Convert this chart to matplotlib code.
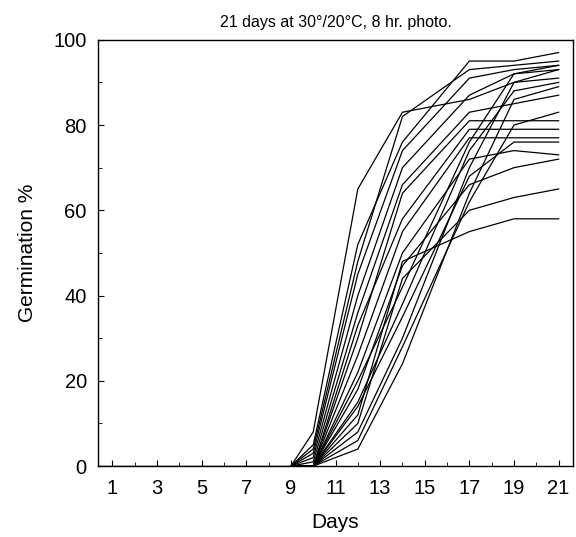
import matplotlib

matplotlib.use("Agg")
import matplotlib.pyplot as plt

plt.rcParams["font.family"] = ["Liberation Sans", "DejaVu Sans"]

# observation days and germination % for each seed lot
days = [9, 10, 12, 14, 17, 19, 21]
lot_a = [0, 8, 65, 83, 86, 90, 91]
lot_b = [0, 5, 52, 76, 95, 95, 97]
lot_c = [0, 4, 48, 82, 93, 94, 95]
lot_d = [0, 3, 45, 74, 91, 93, 94]
lot_e = [0, 2, 40, 70, 87, 92, 93]
lot_f = [0, 1, 36, 66, 83, 85, 87]
lot_g = [0, 0, 30, 64, 81, 81, 81]
lot_h = [0, 0, 33, 58, 79, 79, 79]
lot_i = [0, 0, 26, 55, 77, 77, 77]
lot_j = [0, 0, 22, 50, 72, 74, 73]
lot_k = [0, 0, 18, 47, 66, 70, 72]
lot_l = [0, 0, 12, 48, 55, 58, 58]
lot_m = [0, 0, 10, 44, 60, 63, 65]
lot_n = [0, 0, 4, 24, 64, 86, 89]
lot_o = [0, 0, 8, 30, 70, 90, 93]
lot_p = [0, 0, 15, 38, 74, 88, 90]
lot_q = [0, 0, 20, 42, 76, 92, 94]
lot_r = [0, 0, 6, 28, 62, 80, 83]
lot_s = [0, 0, 14, 35, 68, 76, 76]

lots = [lot_a, lot_b, lot_c, lot_d, lot_e, lot_f, lot_g, lot_h, lot_i, lot_j,
        lot_k, lot_l, lot_m, lot_n, lot_o, lot_p, lot_q, lot_r, lot_s]

fig = plt.figure(figsize=(5.76, 5.37), dpi=100)
ax = fig.add_axes([0.170, 0.132, 0.825, 0.794])

# flat baseline before germination starts
ax.plot([0.35, 9], [0, 0], color="black", linewidth=1.0)
for vals in lots:
    ax.plot(days, vals, color="black", linewidth=0.9)

ax.set_xlim(0.35, 21.65)
ax.set_ylim(0, 100)
ax.set_xticks(range(1, 22, 2))
ax.set_xticks(range(1, 22), minor=True)
ax.set_yticks(range(0, 101, 20))
ax.set_yticks(range(0, 101, 10), minor=True)
ax.tick_params(which="major", direction="in", length=4, width=0.8,
               labelsize=14.5, pad=8)
ax.tick_params(axis="x", which="major", pad=9)
ax.tick_params(which="minor", direction="in", length=3, width=0.6)
for s in ax.spines.values():
    s.set_linewidth(1.0)

ax.set_xlabel("Days", fontsize=15, labelpad=11)
ax.set_ylabel("Germination %", fontsize=15, labelpad=12)
ax.set_title("21 days at 30°/20°C, 8 hr. photo.", fontsize=11.5, pad=9)

fig.savefig("out.png", dpi=100)
plt.close(fig)
